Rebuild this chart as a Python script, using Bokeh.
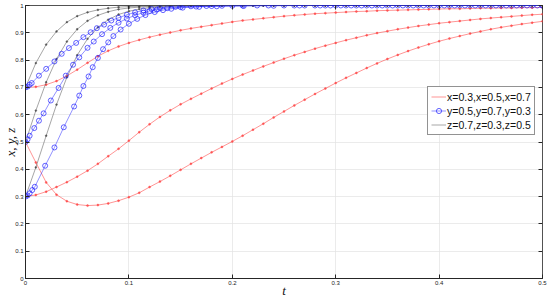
from bokeh.plotting import figure
from bokeh.models import Range1d, FixedTicker, LinearAxis, Legend, LegendItem
from bokeh.embed import file_html
from bokeh.resources import INLINE

# ---------------- data ----------------
T = [0.00, 0.01, 0.02, 0.03, 0.04, 0.05, 0.06, 0.07, 0.08, 0.09,
     0.10, 0.11, 0.12, 0.13, 0.14, 0.15, 0.16, 0.17, 0.18, 0.19,
     0.20, 0.21, 0.22, 0.23, 0.24, 0.25, 0.26, 0.27, 0.28, 0.29,
     0.30, 0.31, 0.32, 0.33, 0.34, 0.35, 0.36, 0.37, 0.38, 0.39,
     0.40, 0.41, 0.42, 0.43, 0.44, 0.45, 0.46, 0.47, 0.48, 0.49, 0.50]

X_07 = [0.700, 0.702, 0.710, 0.723, 0.742, 0.765, 0.790, 0.814, 0.834, 0.850,
        0.863, 0.874, 0.884, 0.893, 0.901, 0.909, 0.916, 0.922, 0.928, 0.934,
        0.940, 0.945, 0.949, 0.953, 0.957, 0.961, 0.964, 0.967, 0.970, 0.972,
        0.974, 0.976, 0.978, 0.979, 0.981, 0.982, 0.983, 0.984, 0.985, 0.986,
        0.987, 0.988, 0.988, 0.989, 0.990, 0.990, 0.991, 0.991, 0.992, 0.992, 0.993]
X_03 = [0.300, 0.306, 0.318, 0.335, 0.353, 0.373, 0.395, 0.420, 0.448, 0.475,
        0.505, 0.536, 0.565, 0.592, 0.616, 0.638, 0.658, 0.677, 0.696, 0.714,
        0.731, 0.747, 0.762, 0.777, 0.791, 0.805, 0.818, 0.830, 0.842, 0.853,
        0.863, 0.873, 0.882, 0.891, 0.899, 0.906, 0.913, 0.919, 0.925, 0.930,
        0.935, 0.939, 0.943, 0.947, 0.951, 0.954, 0.957, 0.960, 0.963, 0.966, 0.968]
X_05 = [0.500, 0.425, 0.352, 0.307, 0.283, 0.271, 0.267, 0.269, 0.275, 0.285,
        0.298, 0.314, 0.335, 0.355, 0.376, 0.398, 0.420, 0.441, 0.462, 0.482,
        0.502, 0.523, 0.545, 0.567, 0.590, 0.612, 0.634, 0.655, 0.676, 0.696,
        0.716, 0.735, 0.753, 0.771, 0.788, 0.804, 0.819, 0.833, 0.846, 0.858,
        0.869, 0.879, 0.888, 0.897, 0.905, 0.913, 0.920, 0.926, 0.932, 0.937, 0.942]

Z_07 = [0.700, 0.789, 0.857, 0.905, 0.939, 0.961, 0.975, 0.984, 0.990, 0.994,
        0.996, 0.997, 0.998, 0.999, 0.999, 1.000, 1.000, 1.000, 1.000, 1.000,
        1.000, 1.000, 1.000, 1.000, 1.000, 1.000, 1.000, 1.000, 1.000, 1.000,
        1.000, 1.000, 1.000, 1.000, 1.000, 1.000, 1.000, 1.000, 1.000, 1.000,
        1.000, 1.000, 1.000, 1.000, 1.000, 1.000, 1.000, 1.000, 1.000, 1.000, 1.000]
Z_05 = [0.500, 0.615, 0.719, 0.804, 0.868, 0.913, 0.944, 0.964, 0.977, 0.986,
        0.991, 0.994, 0.996, 0.998, 0.999, 0.999, 1.000, 1.000, 1.000, 1.000,
        1.000, 1.000, 1.000, 1.000, 1.000, 1.000, 1.000, 1.000, 1.000, 1.000,
        1.000, 1.000, 1.000, 1.000, 1.000, 1.000, 1.000, 1.000, 1.000, 1.000,
        1.000, 1.000, 1.000, 1.000, 1.000, 1.000, 1.000, 1.000, 1.000, 1.000, 1.000]
Z_03 = [0.300, 0.407, 0.523, 0.637, 0.737, 0.818, 0.878, 0.920, 0.948, 0.967,
        0.979, 0.987, 0.992, 0.995, 0.997, 0.998, 0.999, 0.999, 1.000, 1.000,
        1.000, 1.000, 1.000, 1.000, 1.000, 1.000, 1.000, 1.000, 1.000, 1.000,
        1.000, 1.000, 1.000, 1.000, 1.000, 1.000, 1.000, 1.000, 1.000, 1.000,
        1.000, 1.000, 1.000, 1.000, 1.000, 1.000, 1.000, 1.000, 1.000, 1.000, 1.000]

Y07_T = [0.000, 0.002, 0.004, 0.006, 0.013, 0.020, 0.028, 0.035, 0.042, 0.049,
         0.056, 0.063, 0.069, 0.076, 0.083, 0.090, 0.098, 0.106, 0.114, 0.122,
         0.130, 0.145, 0.160, 0.175, 0.190, 0.210, 0.235, 0.260, 0.280, 0.295,
         0.310, 0.325, 0.340, 0.355, 0.370, 0.385, 0.400, 0.415, 0.430, 0.445,
         0.460, 0.475, 0.490, 0.500]
Y07_V = [0.700, 0.703, 0.710, 0.716, 0.743, 0.768, 0.795, 0.823, 0.844, 0.863,
         0.884, 0.902, 0.917, 0.930, 0.945, 0.955, 0.966, 0.975, 0.982, 0.987,
         0.991, 0.995, 0.997, 0.998, 0.999, 1.000, 1.000, 1.000, 1.000, 1.000,
         1.000, 1.000, 1.000, 1.000, 1.000, 1.000, 1.000, 1.000, 1.000, 1.000,
         1.000, 1.000, 1.000, 1.000]
Y05_T = [0.000, 0.002, 0.004, 0.0085, 0.013, 0.0175, 0.0245, 0.032, 0.039, 0.046,
         0.052, 0.060, 0.066, 0.074, 0.082, 0.090, 0.098, 0.106, 0.114, 0.120,
         0.127, 0.137, 0.150, 0.165, 0.180, 0.200, 0.224, 0.250, 0.270, 0.285,
         0.300, 0.315, 0.330, 0.345, 0.360, 0.375, 0.390, 0.405, 0.420, 0.435,
         0.450, 0.465, 0.480, 0.495]
Y05_V = [0.500, 0.510, 0.523, 0.551, 0.578, 0.605, 0.652, 0.698, 0.743, 0.783,
         0.810, 0.845, 0.868, 0.895, 0.918, 0.937, 0.952, 0.964, 0.974, 0.980,
         0.985, 0.990, 0.994, 0.996, 0.998, 0.999, 1.000, 1.000, 1.000, 1.000,
         1.000, 1.000, 1.000, 1.000, 1.000, 1.000, 1.000, 1.000, 1.000, 1.000,
         1.000, 1.000, 1.000, 1.000]
Y03_T = [0.000, 0.002, 0.004, 0.0065, 0.009, 0.019, 0.028, 0.037, 0.047, 0.052,
         0.056, 0.061, 0.065, 0.070, 0.075, 0.080, 0.085, 0.092, 0.100, 0.108,
         0.116, 0.125, 0.133, 0.141, 0.152, 0.168, 0.185, 0.211, 0.240, 0.265,
         0.290, 0.305, 0.320, 0.335, 0.350, 0.365, 0.380, 0.395, 0.410, 0.425,
         0.440, 0.455, 0.470, 0.485, 0.500]
Y03_V = [0.300, 0.304, 0.312, 0.324, 0.336, 0.413, 0.480, 0.554, 0.630, 0.670,
         0.705, 0.740, 0.774, 0.808, 0.840, 0.865, 0.888, 0.912, 0.933, 0.951,
         0.965, 0.976, 0.983, 0.988, 0.992, 0.995, 0.997, 0.998, 0.999, 1.000,
         1.000, 1.000, 1.000, 1.000, 1.000, 1.000, 1.000, 1.000, 1.000, 1.000,
         1.000, 1.000, 1.000, 1.000, 1.000]

X_TICKS = [0, 0.1, 0.2, 0.3, 0.4, 0.5]
X_TICK_LABELS = ["0", "0.1", "0.2", "0.3", "0.4", "0.5"]
Y_TICKS = [0, 0.1, 0.2, 0.3, 0.4, 0.5, 0.6, 0.7, 0.8, 0.9, 1]
Y_TICK_LABELS = ["0", "0.1", "0.2", "0.3", "0.4", "0.5", "0.6", "0.7", "0.8", "0.9", "1"]

X_LABEL = "t"
Y_LABEL = "x, y, z"
LEGEND_LABELS = ["x=0.3,x=0.5,x=0.7", "y=0.5,y=0.7,y=0.3", "z=0.7,z=0.3,z=0.5"]

RED = "#ff4040"
BLUE = "#1a1aff"
BLACK = "#444444"
AX = "#262626"

# ---------------- figure ----------------
p = figure(width=548, height=300, x_range=Range1d(0, 0.5), y_range=Range1d(0, 1),
           output_backend="svg", toolbar_location=None,
           min_border_left=0, min_border_right=6, min_border_top=5, min_border_bottom=0)
p.background_fill_color = "white"
p.border_fill_color = "white"
p.outline_line_color = AX
p.outline_line_width = 0.8

for ax in p.xaxis:
    ax.ticker = FixedTicker(ticks=X_TICKS)
    ax.major_label_overrides = {t: l for t, l in zip(X_TICKS, X_TICK_LABELS)}
    ax.axis_label = X_LABEL
    ax.axis_label_standoff = -5
for ax in p.yaxis:
    ax.ticker = FixedTicker(ticks=Y_TICKS)
    ax.major_label_overrides = {t: l for t, l in zip(Y_TICKS, Y_TICK_LABELS)}
    ax.axis_label = Y_LABEL
    ax.axis_label_standoff = -6
for ax in list(p.xaxis) + list(p.yaxis):
    ax.major_tick_in = 4
    ax.major_tick_out = 0
    ax.minor_tick_line_color = None
    ax.major_tick_line_color = AX
    ax.axis_line_color = AX
    ax.major_label_text_font = "Liberation Sans"
    ax.major_label_text_font_size = "6px"
    ax.major_label_text_color = "#222222"
    ax.major_label_standoff = 2
    ax.axis_label_text_font = "Liberation Serif"
    ax.axis_label_text_font_style = "italic"
    ax.axis_label_text_font_size = "13px"
    ax.axis_label_text_color = "#111111"

# mirrored ticks (box style), without labels
for side, ticks in (("right", Y_TICKS), ("above", X_TICKS)):
    a = LinearAxis(ticker=FixedTicker(ticks=ticks), major_label_text_font_size="1px",
                   major_label_text_color=None,
                   major_tick_in=4, major_tick_out=0, minor_tick_line_color=None,
                   major_label_standoff=0, axis_line_color=None,
                   major_tick_line_color=AX)
    p.add_layout(a, side)

p.xgrid.ticker = FixedTicker(ticks=X_TICKS)
p.ygrid.ticker = FixedTicker(ticks=Y_TICKS)
p.grid.grid_line_color = "#e3e3e3"
p.grid.grid_line_width = 0.7

# ---------------- series ----------------
red_r = []
for vals in (X_07, X_03, X_05):
    l = p.line(T, vals, line_color=RED, line_width=0.7, line_alpha=0.8)
    s = p.scatter(T, vals, marker="circle", size=2.0, fill_color=RED, line_color=RED,
                  line_width=0.5, alpha=0.8)
    red_r.append((l, s))

blk_r = []
for vals in (Z_07, Z_05, Z_03):
    l = p.line(T, vals, line_color=BLACK, line_width=0.6, line_alpha=0.8)
    s = p.scatter(T, vals, marker="circle", size=1.8, fill_color=BLACK, line_color=BLACK,
                  line_width=0.5, alpha=0.8)
    blk_r.append((l, s))

blu_r = []
for tt, vals in ((Y07_T, Y07_V), (Y05_T, Y05_V), (Y03_T, Y03_V)):
    l = p.line(tt, vals, line_color=BLUE, line_width=0.6, line_alpha=0.8)
    s = p.scatter(tt, vals, marker="circle", size=5, fill_color=None, line_color=BLUE,
                  line_width=0.8, line_alpha=0.85)
    blu_r.append((l, s))

legend = Legend(items=[
    LegendItem(label=LEGEND_LABELS[0], renderers=[red_r[0][0]]),
    LegendItem(label=LEGEND_LABELS[1], renderers=[blu_r[0][0], blu_r[0][1]]),
    LegendItem(label=LEGEND_LABELS[2], renderers=[blk_r[0][0]]),
], location=(402, 143))
legend.label_text_font = "Liberation Sans"
legend.label_text_font_size = "10.5px"
legend.label_text_color = "#111111"
legend.label_height = 13
legend.label_standoff = 1
legend.glyph_width = 15
legend.glyph_height = 13
legend.spacing = 1
legend.padding = 3
legend.margin = 0
legend.border_line_color = AX
legend.border_line_width = 0.8
legend.background_fill_color = "white"
legend.background_fill_alpha = 1
p.add_layout(legend)

open("out.html", "w").write(file_html(p, INLINE))
